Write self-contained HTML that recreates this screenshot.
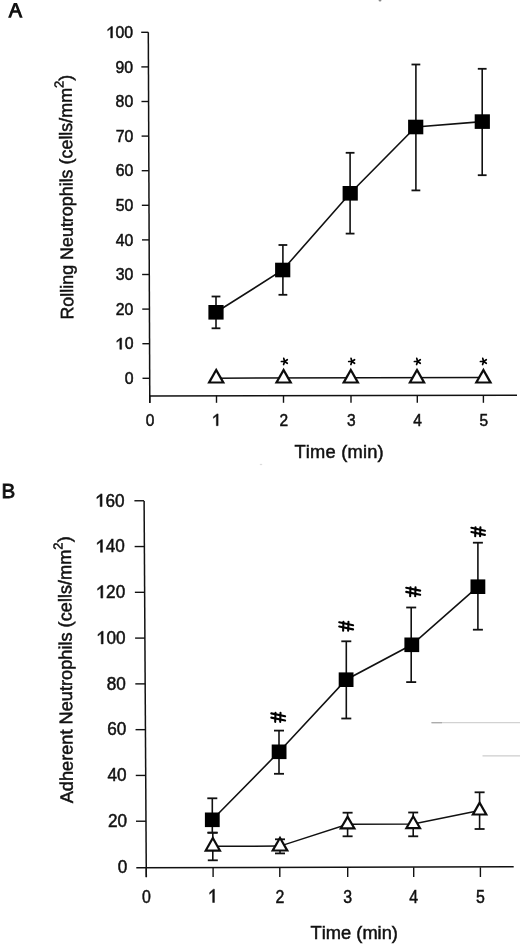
<!DOCTYPE html>
<html><head><meta charset="utf-8"><style>
html,body{margin:0;padding:0;background:#fff;}
body{width:520px;height:944px;overflow:hidden;}
svg{display:block;font-family:"Liberation Sans", sans-serif;will-change:transform;}
text{fill:#111;font-kerning:none;}
</style></head><body>
<svg width="520" height="944" viewBox="0 0 520 944">
<line x1="148.3" y1="32.3" x2="149.8" y2="403" stroke="#111" stroke-width="1.5"/>
<line x1="149" y1="395.9" x2="517" y2="395.3" stroke="#111" stroke-width="1.5"/>
<line x1="142.50" y1="378.30" x2="149.70" y2="378.30" stroke="#111" stroke-width="1.4"/>
<g transform="translate(124.72,383.90) scale(1.0,1)"><text x="0.00" y="0" font-size="15.8" stroke="#111" stroke-width="0.5">0</text></g>
<line x1="142.37" y1="343.70" x2="149.56" y2="343.70" stroke="#111" stroke-width="1.4"/>
<g transform="translate(115.89,349.30) scale(1.0,1)"><polygon points="3.95,0.00 5.72,0.00 5.72,-11.31 4.58,-11.31 0.95,-8.45 0.95,-7.03 3.95,-9.29" fill="#111" stroke="#111" stroke-width="0.5" stroke-linejoin="round"/><text x="8.78" y="0" font-size="15.8" stroke="#111" stroke-width="0.5">0</text></g>
<line x1="142.24" y1="309.10" x2="149.42" y2="309.10" stroke="#111" stroke-width="1.4"/>
<g transform="translate(115.85,314.70) scale(1.0,1)"><text x="0.00" y="0" font-size="15.8" stroke="#111" stroke-width="0.5">2</text><text x="8.78" y="0" font-size="15.8" stroke="#111" stroke-width="0.5">0</text></g>
<line x1="142.11" y1="274.50" x2="149.28" y2="274.50" stroke="#111" stroke-width="1.4"/>
<g transform="translate(115.81,280.10) scale(1.0,1)"><text x="0.00" y="0" font-size="15.8" stroke="#111" stroke-width="0.5">3</text><text x="8.78" y="0" font-size="15.8" stroke="#111" stroke-width="0.5">0</text></g>
<line x1="141.98" y1="239.90" x2="149.14" y2="239.90" stroke="#111" stroke-width="1.4"/>
<g transform="translate(115.77,245.50) scale(1.0,1)"><text x="0.00" y="0" font-size="15.8" stroke="#111" stroke-width="0.5">4</text><text x="8.78" y="0" font-size="15.8" stroke="#111" stroke-width="0.5">0</text></g>
<line x1="141.85" y1="205.30" x2="149.00" y2="205.30" stroke="#111" stroke-width="1.4"/>
<g transform="translate(115.73,210.90) scale(1.0,1)"><text x="0.00" y="0" font-size="15.8" stroke="#111" stroke-width="0.5">5</text><text x="8.78" y="0" font-size="15.8" stroke="#111" stroke-width="0.5">0</text></g>
<line x1="141.72" y1="170.70" x2="148.86" y2="170.70" stroke="#111" stroke-width="1.4"/>
<g transform="translate(115.69,176.30) scale(1.0,1)"><text x="0.00" y="0" font-size="15.8" stroke="#111" stroke-width="0.5">6</text><text x="8.78" y="0" font-size="15.8" stroke="#111" stroke-width="0.5">0</text></g>
<line x1="141.59" y1="136.10" x2="148.72" y2="136.10" stroke="#111" stroke-width="1.4"/>
<g transform="translate(115.65,141.70) scale(1.0,1)"><text x="0.00" y="0" font-size="15.8" stroke="#111" stroke-width="0.5">7</text><text x="8.78" y="0" font-size="15.8" stroke="#111" stroke-width="0.5">0</text></g>
<line x1="141.46" y1="101.50" x2="148.58" y2="101.50" stroke="#111" stroke-width="1.4"/>
<g transform="translate(115.61,107.10) scale(1.0,1)"><text x="0.00" y="0" font-size="15.8" stroke="#111" stroke-width="0.5">8</text><text x="8.78" y="0" font-size="15.8" stroke="#111" stroke-width="0.5">0</text></g>
<line x1="141.33" y1="66.90" x2="148.44" y2="66.90" stroke="#111" stroke-width="1.4"/>
<g transform="translate(115.57,72.50) scale(1.0,1)"><text x="0.00" y="0" font-size="15.8" stroke="#111" stroke-width="0.5">9</text><text x="8.78" y="0" font-size="15.8" stroke="#111" stroke-width="0.5">0</text></g>
<line x1="141.20" y1="32.30" x2="148.30" y2="32.30" stroke="#111" stroke-width="1.4"/>
<g transform="translate(106.75,37.90) scale(1.0,1)"><polygon points="3.95,0.00 5.72,0.00 5.72,-11.31 4.58,-11.31 0.95,-8.45 0.95,-7.03 3.95,-9.29" fill="#111" stroke="#111" stroke-width="0.5" stroke-linejoin="round"/><text x="8.78" y="0" font-size="15.8" stroke="#111" stroke-width="0.5">0</text><text x="17.57" y="0" font-size="15.8" stroke="#111" stroke-width="0.5">0</text></g>
<line x1="149.8" y1="395.5" x2="149.8" y2="402.8" stroke="#111" stroke-width="1.4"/>
<g transform="translate(145.79,425.70) scale(0.94,1)"><text x="0.00" y="0" font-size="16.5" stroke="#111" stroke-width="0.5">0</text></g>
<line x1="216.5" y1="395.5" x2="216.5" y2="402.8" stroke="#111" stroke-width="1.4"/>
<g transform="translate(212.49,425.70) scale(0.94,1)"><polygon points="4.12,0.00 5.97,0.00 5.97,-11.81 4.78,-11.81 0.99,-8.83 0.99,-7.34 4.12,-9.70" fill="#111" stroke="#111" stroke-width="0.5" stroke-linejoin="round"/></g>
<line x1="283.5" y1="395.5" x2="283.5" y2="402.8" stroke="#111" stroke-width="1.4"/>
<g transform="translate(279.49,425.70) scale(0.94,1)"><text x="0.00" y="0" font-size="16.5" stroke="#111" stroke-width="0.5">2</text></g>
<line x1="351.0" y1="395.5" x2="351.0" y2="402.8" stroke="#111" stroke-width="1.4"/>
<g transform="translate(346.99,425.70) scale(0.94,1)"><text x="0.00" y="0" font-size="16.5" stroke="#111" stroke-width="0.5">3</text></g>
<line x1="417.3" y1="395.5" x2="417.3" y2="402.8" stroke="#111" stroke-width="1.4"/>
<g transform="translate(413.29,425.70) scale(0.94,1)"><text x="0.00" y="0" font-size="16.5" stroke="#111" stroke-width="0.5">4</text></g>
<line x1="483.4" y1="395.5" x2="483.4" y2="402.8" stroke="#111" stroke-width="1.4"/>
<g transform="translate(479.39,425.70) scale(0.94,1)"><text x="0.00" y="0" font-size="16.5" stroke="#111" stroke-width="0.5">5</text></g>
<text x="294.4" y="457.8" font-size="18.3" letter-spacing="0.22" stroke="#111" stroke-width="0.5">Time (min)</text>
<text transform="translate(73.3,319.6) rotate(-90.38)" font-size="17.9" stroke="#111" stroke-width="0.5">Rolling Neutrophils (cells/mm<tspan font-size="13" dy="-8.3">2</tspan><tspan dy="8.3">)</tspan></text>
<polygon points="13.8,3.0 16.5,3.0 11.0,17.8 8.1,17.8" fill="#111"/><polygon points="14.3,3.0 17.0,3.0 22.7,17.8 19.8,17.8" fill="#111"/><polygon points="11.2,10.2 19.6,10.2 20.5,12.8 10.3,12.8" fill="#111"/>
<line x1="216.0" y1="296.5" x2="216.0" y2="328.3" stroke="#111" stroke-width="1.6"/>
<line x1="211.6" y1="296.5" x2="220.4" y2="296.5" stroke="#111" stroke-width="1.8"/>
<line x1="211.6" y1="328.3" x2="220.4" y2="328.3" stroke="#111" stroke-width="1.8"/>
<line x1="282.9" y1="245.0" x2="282.9" y2="294.8" stroke="#111" stroke-width="1.6"/>
<line x1="278.5" y1="245.0" x2="287.29999999999995" y2="245.0" stroke="#111" stroke-width="1.8"/>
<line x1="278.5" y1="294.8" x2="287.29999999999995" y2="294.8" stroke="#111" stroke-width="1.8"/>
<line x1="350.1" y1="152.8" x2="350.1" y2="233.6" stroke="#111" stroke-width="1.6"/>
<line x1="345.70000000000005" y1="152.8" x2="354.5" y2="152.8" stroke="#111" stroke-width="1.8"/>
<line x1="345.70000000000005" y1="233.6" x2="354.5" y2="233.6" stroke="#111" stroke-width="1.8"/>
<line x1="415.9" y1="64.5" x2="415.9" y2="190.4" stroke="#111" stroke-width="1.6"/>
<line x1="411.5" y1="64.5" x2="420.29999999999995" y2="64.5" stroke="#111" stroke-width="1.8"/>
<line x1="411.5" y1="190.4" x2="420.29999999999995" y2="190.4" stroke="#111" stroke-width="1.8"/>
<line x1="482.2" y1="68.8" x2="482.2" y2="175.2" stroke="#111" stroke-width="1.6"/>
<line x1="477.8" y1="68.8" x2="486.59999999999997" y2="68.8" stroke="#111" stroke-width="1.8"/>
<line x1="477.8" y1="175.2" x2="486.59999999999997" y2="175.2" stroke="#111" stroke-width="1.8"/>
<polyline points="216.0,312.3 282.7,270.0 350.2,193.3 415.7,127.0 482.3,121.6" fill="none" stroke="#111" stroke-width="1.6"/>
<rect x="208.4" y="305.0" width="15.2" height="14.6" fill="#000"/>
<rect x="275.09999999999997" y="262.7" width="15.2" height="14.6" fill="#000"/>
<rect x="342.59999999999997" y="186.0" width="15.2" height="14.6" fill="#000"/>
<rect x="408.09999999999997" y="119.7" width="15.2" height="14.6" fill="#000"/>
<rect x="474.7" y="114.3" width="15.2" height="14.6" fill="#000"/>
<line x1="216.2" y1="378.2" x2="483.4" y2="377.6" stroke="#111" stroke-width="1.5"/>
<polygon points="216.20,367.70 207.20,383.60 225.20,383.60" fill="#0c0c0c"/><polygon points="216.20,372.17 210.97,381.40 221.43,381.40" fill="#fff"/>
<polygon points="283.60,367.70 274.60,383.60 292.60,383.60" fill="#0c0c0c"/><polygon points="283.60,372.17 278.37,381.40 288.83,381.40" fill="#fff"/>
<polygon points="350.80,367.70 341.80,383.60 359.80,383.60" fill="#0c0c0c"/><polygon points="350.80,372.17 345.57,381.40 356.03,381.40" fill="#fff"/>
<polygon points="417.00,367.70 408.00,383.60 426.00,383.60" fill="#0c0c0c"/><polygon points="417.00,372.17 411.77,381.40 422.23,381.40" fill="#fff"/>
<polygon points="483.40,367.70 474.40,383.60 492.40,383.60" fill="#0c0c0c"/><polygon points="483.40,372.17 478.17,381.40 488.63,381.40" fill="#fff"/>
<line x1="284.60" y1="361.50" x2="281.40" y2="361.50" stroke="#000" stroke-width="1.7" stroke-linecap="round"/><line x1="284.60" y1="361.50" x2="283.77" y2="358.41" stroke="#000" stroke-width="1.7" stroke-linecap="round"/><line x1="284.60" y1="361.50" x2="287.28" y2="359.76" stroke="#000" stroke-width="1.7" stroke-linecap="round"/><line x1="284.60" y1="361.50" x2="287.28" y2="363.24" stroke="#000" stroke-width="1.7" stroke-linecap="round"/><line x1="284.60" y1="361.50" x2="283.61" y2="364.54" stroke="#000" stroke-width="1.7" stroke-linecap="round"/>
<line x1="351.90" y1="361.50" x2="348.70" y2="361.50" stroke="#000" stroke-width="1.7" stroke-linecap="round"/><line x1="351.90" y1="361.50" x2="351.07" y2="358.41" stroke="#000" stroke-width="1.7" stroke-linecap="round"/><line x1="351.90" y1="361.50" x2="354.58" y2="359.76" stroke="#000" stroke-width="1.7" stroke-linecap="round"/><line x1="351.90" y1="361.50" x2="354.58" y2="363.24" stroke="#000" stroke-width="1.7" stroke-linecap="round"/><line x1="351.90" y1="361.50" x2="350.91" y2="364.54" stroke="#000" stroke-width="1.7" stroke-linecap="round"/>
<line x1="417.60" y1="361.50" x2="414.40" y2="361.50" stroke="#000" stroke-width="1.7" stroke-linecap="round"/><line x1="417.60" y1="361.50" x2="416.77" y2="358.41" stroke="#000" stroke-width="1.7" stroke-linecap="round"/><line x1="417.60" y1="361.50" x2="420.28" y2="359.76" stroke="#000" stroke-width="1.7" stroke-linecap="round"/><line x1="417.60" y1="361.50" x2="420.28" y2="363.24" stroke="#000" stroke-width="1.7" stroke-linecap="round"/><line x1="417.60" y1="361.50" x2="416.61" y2="364.54" stroke="#000" stroke-width="1.7" stroke-linecap="round"/>
<line x1="483.60" y1="361.50" x2="480.40" y2="361.50" stroke="#000" stroke-width="1.7" stroke-linecap="round"/><line x1="483.60" y1="361.50" x2="482.77" y2="358.41" stroke="#000" stroke-width="1.7" stroke-linecap="round"/><line x1="483.60" y1="361.50" x2="486.28" y2="359.76" stroke="#000" stroke-width="1.7" stroke-linecap="round"/><line x1="483.60" y1="361.50" x2="486.28" y2="363.24" stroke="#000" stroke-width="1.7" stroke-linecap="round"/><line x1="483.60" y1="361.50" x2="482.61" y2="364.54" stroke="#000" stroke-width="1.7" stroke-linecap="round"/>
<line x1="144.1" y1="501" x2="146.3" y2="877.3" stroke="#111" stroke-width="1.5"/>
<line x1="136.3" y1="867.7" x2="513.7" y2="866.8" stroke="#111" stroke-width="1.5"/>
<g transform="translate(117.81,872.80) scale(0.97,1)"><text x="0.00" y="0" font-size="17.7" stroke="#111" stroke-width="0.5">0</text></g>
<line x1="136.00" y1="821.22" x2="145.97" y2="821.22" stroke="#111" stroke-width="1.4"/>
<g transform="translate(107.91,827.02) scale(0.97,1)"><text x="0.00" y="0" font-size="17.7" stroke="#111" stroke-width="0.5">2</text><text x="9.84" y="0" font-size="17.7" stroke="#111" stroke-width="0.5">0</text></g>
<line x1="135.77" y1="775.44" x2="145.71" y2="775.44" stroke="#111" stroke-width="1.4"/>
<g transform="translate(107.55,781.24) scale(0.97,1)"><text x="0.00" y="0" font-size="17.7" stroke="#111" stroke-width="0.5">4</text><text x="9.84" y="0" font-size="17.7" stroke="#111" stroke-width="0.5">0</text></g>
<line x1="135.54" y1="729.66" x2="145.44" y2="729.66" stroke="#111" stroke-width="1.4"/>
<g transform="translate(107.19,735.46) scale(0.97,1)"><text x="0.00" y="0" font-size="17.7" stroke="#111" stroke-width="0.5">6</text><text x="9.84" y="0" font-size="17.7" stroke="#111" stroke-width="0.5">0</text></g>
<line x1="135.31" y1="683.88" x2="145.17" y2="683.88" stroke="#111" stroke-width="1.4"/>
<g transform="translate(106.83,689.68) scale(0.97,1)"><text x="0.00" y="0" font-size="17.7" stroke="#111" stroke-width="0.5">8</text><text x="9.84" y="0" font-size="17.7" stroke="#111" stroke-width="0.5">0</text></g>
<line x1="135.09" y1="638.10" x2="144.90" y2="638.10" stroke="#111" stroke-width="1.4"/>
<g transform="translate(96.93,643.90) scale(0.97,1)"><polygon points="4.42,0.00 6.41,0.00 6.41,-12.67 5.13,-12.67 1.06,-9.47 1.06,-7.88 4.42,-10.41" fill="#111" stroke="#111" stroke-width="0.5" stroke-linejoin="round"/><text x="9.84" y="0" font-size="17.7" stroke="#111" stroke-width="0.5">0</text><text x="19.68" y="0" font-size="17.7" stroke="#111" stroke-width="0.5">0</text></g>
<line x1="134.86" y1="592.32" x2="144.63" y2="592.32" stroke="#111" stroke-width="1.4"/>
<g transform="translate(96.57,598.12) scale(0.97,1)"><polygon points="4.42,0.00 6.41,0.00 6.41,-12.67 5.13,-12.67 1.06,-9.47 1.06,-7.88 4.42,-10.41" fill="#111" stroke="#111" stroke-width="0.5" stroke-linejoin="round"/><text x="9.84" y="0" font-size="17.7" stroke="#111" stroke-width="0.5">2</text><text x="19.68" y="0" font-size="17.7" stroke="#111" stroke-width="0.5">0</text></g>
<line x1="134.63" y1="546.54" x2="144.37" y2="546.54" stroke="#111" stroke-width="1.4"/>
<g transform="translate(96.22,552.34) scale(0.97,1)"><polygon points="4.42,0.00 6.41,0.00 6.41,-12.67 5.13,-12.67 1.06,-9.47 1.06,-7.88 4.42,-10.41" fill="#111" stroke="#111" stroke-width="0.5" stroke-linejoin="round"/><text x="9.84" y="0" font-size="17.7" stroke="#111" stroke-width="0.5">4</text><text x="19.68" y="0" font-size="17.7" stroke="#111" stroke-width="0.5">0</text></g>
<line x1="134.40" y1="500.76" x2="144.10" y2="500.76" stroke="#111" stroke-width="1.4"/>
<g transform="translate(95.86,506.56) scale(0.97,1)"><polygon points="4.42,0.00 6.41,0.00 6.41,-12.67 5.13,-12.67 1.06,-9.47 1.06,-7.88 4.42,-10.41" fill="#111" stroke="#111" stroke-width="0.5" stroke-linejoin="round"/><text x="9.84" y="0" font-size="17.7" stroke="#111" stroke-width="0.5">6</text><text x="19.68" y="0" font-size="17.7" stroke="#111" stroke-width="0.5">0</text></g>
<line x1="146.3" y1="867.3" x2="146.3" y2="877" stroke="#111" stroke-width="1.4"/>
<g transform="translate(141.88,902.50) scale(0.86,1)"><text x="0.00" y="0" font-size="18.5" stroke="#111" stroke-width="0.5">0</text></g>
<line x1="213.1" y1="867.3" x2="213.1" y2="877" stroke="#111" stroke-width="1.4"/>
<g transform="translate(208.68,902.50) scale(0.86,1)"><polygon points="4.62,0.00 6.70,0.00 6.70,-13.25 5.36,-13.25 1.11,-9.90 1.11,-8.23 4.62,-10.88" fill="#111" stroke="#111" stroke-width="0.5" stroke-linejoin="round"/></g>
<line x1="279.8" y1="867.3" x2="279.8" y2="877" stroke="#111" stroke-width="1.4"/>
<g transform="translate(275.38,902.50) scale(0.86,1)"><text x="0.00" y="0" font-size="18.5" stroke="#111" stroke-width="0.5">2</text></g>
<line x1="347.7" y1="867.3" x2="347.7" y2="877" stroke="#111" stroke-width="1.4"/>
<g transform="translate(343.28,902.50) scale(0.86,1)"><text x="0.00" y="0" font-size="18.5" stroke="#111" stroke-width="0.5">3</text></g>
<line x1="413.7" y1="867.3" x2="413.7" y2="877" stroke="#111" stroke-width="1.4"/>
<g transform="translate(409.28,902.50) scale(0.86,1)"><text x="0.00" y="0" font-size="18.5" stroke="#111" stroke-width="0.5">4</text></g>
<line x1="480.4" y1="867.3" x2="480.4" y2="877" stroke="#111" stroke-width="1.4"/>
<g transform="translate(475.98,902.50) scale(0.86,1)"><text x="0.00" y="0" font-size="18.5" stroke="#111" stroke-width="0.5">5</text></g>
<text x="310.6" y="938.6" font-size="18.3" stroke="#111" stroke-width="0.5">Time (min)</text>
<text transform="translate(72.9,803.3) rotate(-90.45)" font-size="18.2" stroke="#111" stroke-width="0.5">Adherent Neutrophils (cells/mm<tspan font-size="13" dy="-8.3">2</tspan><tspan dy="8.3">)</tspan></text>
<text x="1.5" y="498.0" font-size="20.6" stroke="#111" stroke-width="0.85">B</text>
<line x1="212.3" y1="798.3" x2="212.3" y2="832.7" stroke="#111" stroke-width="1.6"/>
<line x1="207.3" y1="798.3" x2="217.3" y2="798.3" stroke="#111" stroke-width="1.8"/>
<line x1="207.3" y1="832.7" x2="217.3" y2="832.7" stroke="#111" stroke-width="1.8"/>
<line x1="279.0" y1="730.6" x2="279.0" y2="773.8" stroke="#111" stroke-width="1.6"/>
<line x1="274.0" y1="730.6" x2="284.0" y2="730.6" stroke="#111" stroke-width="1.8"/>
<line x1="274.0" y1="773.8" x2="284.0" y2="773.8" stroke="#111" stroke-width="1.8"/>
<line x1="346.3" y1="641.3" x2="346.3" y2="718.5" stroke="#111" stroke-width="1.6"/>
<line x1="341.3" y1="641.3" x2="351.3" y2="641.3" stroke="#111" stroke-width="1.8"/>
<line x1="341.3" y1="718.5" x2="351.3" y2="718.5" stroke="#111" stroke-width="1.8"/>
<line x1="411.2" y1="607.5" x2="411.2" y2="682.1" stroke="#111" stroke-width="1.6"/>
<line x1="406.2" y1="607.5" x2="416.2" y2="607.5" stroke="#111" stroke-width="1.8"/>
<line x1="406.2" y1="682.1" x2="416.2" y2="682.1" stroke="#111" stroke-width="1.8"/>
<line x1="477.9" y1="542.7" x2="477.9" y2="629.7" stroke="#111" stroke-width="1.6"/>
<line x1="472.9" y1="542.7" x2="482.9" y2="542.7" stroke="#111" stroke-width="1.8"/>
<line x1="472.9" y1="629.7" x2="482.9" y2="629.7" stroke="#111" stroke-width="1.8"/>
<line x1="212.8" y1="832.7" x2="212.8" y2="860.3" stroke="#111" stroke-width="1.6"/>
<line x1="207.8" y1="832.7" x2="217.8" y2="832.7" stroke="#111" stroke-width="1.8"/>
<line x1="207.8" y1="860.3" x2="217.8" y2="860.3" stroke="#111" stroke-width="1.8"/>
<line x1="280.0" y1="839.3" x2="280.0" y2="853.4" stroke="#111" stroke-width="1.6"/>
<line x1="275.0" y1="839.3" x2="285.0" y2="839.3" stroke="#111" stroke-width="1.8"/>
<line x1="275.0" y1="853.4" x2="285.0" y2="853.4" stroke="#111" stroke-width="1.8"/>
<line x1="347.6" y1="812.7" x2="347.6" y2="836.3" stroke="#111" stroke-width="1.6"/>
<line x1="342.6" y1="812.7" x2="352.6" y2="812.7" stroke="#111" stroke-width="1.8"/>
<line x1="342.6" y1="836.3" x2="352.6" y2="836.3" stroke="#111" stroke-width="1.8"/>
<line x1="413.2" y1="812.5" x2="413.2" y2="836.3" stroke="#111" stroke-width="1.6"/>
<line x1="408.2" y1="812.5" x2="418.2" y2="812.5" stroke="#111" stroke-width="1.8"/>
<line x1="408.2" y1="836.3" x2="418.2" y2="836.3" stroke="#111" stroke-width="1.8"/>
<line x1="479.6" y1="792.3" x2="479.6" y2="829.0" stroke="#111" stroke-width="1.6"/>
<line x1="474.6" y1="792.3" x2="484.6" y2="792.3" stroke="#111" stroke-width="1.8"/>
<line x1="474.6" y1="829.0" x2="484.6" y2="829.0" stroke="#111" stroke-width="1.8"/>
<polyline points="212.3,819.8 279.1,751.8 346.1,679.7 411.8,644.8 477.9,586.7" fill="none" stroke="#111" stroke-width="1.6"/>
<polyline points="212.80,846.23 280.00,846.10 347.60,824.30 413.20,824.07 479.60,810.40" fill="none" stroke="#111" stroke-width="1.5"/>
<rect x="204.9" y="812.5" width="14.8" height="14.6" fill="#000"/>
<rect x="271.70000000000005" y="744.5" width="14.8" height="14.6" fill="#000"/>
<rect x="338.70000000000005" y="672.4000000000001" width="14.8" height="14.6" fill="#000"/>
<rect x="404.40000000000003" y="637.5" width="14.8" height="14.6" fill="#000"/>
<rect x="470.5" y="579.4000000000001" width="14.8" height="14.6" fill="#000"/>
<polygon points="212.80,835.70 203.80,851.80 221.80,851.80" fill="#0c0c0c"/><polygon points="212.80,840.21 207.55,849.60 218.05,849.60" fill="#fff"/>
<polygon points="280.00,835.70 270.80,851.60 289.20,851.60" fill="#0c0c0c"/><polygon points="280.00,840.09 274.61,849.40 285.39,849.40" fill="#fff"/>
<polygon points="347.60,814.50 338.90,829.50 356.30,829.50" fill="#0c0c0c"/><polygon points="347.60,818.88 342.72,827.30 352.48,827.30" fill="#fff"/>
<polygon points="413.20,814.20 404.50,829.30 421.90,829.30" fill="#0c0c0c"/><polygon points="413.20,818.61 408.31,827.10 418.09,827.10" fill="#fff"/>
<polygon points="479.60,800.60 471.00,815.60 488.20,815.60" fill="#0c0c0c"/><polygon points="479.60,805.02 474.80,813.40 484.40,813.40" fill="#fff"/>
<line x1="271.30" y1="713.40" x2="285.10" y2="716.30" stroke="#000" stroke-width="2.1" stroke-linecap="round"/><line x1="271.30" y1="717.60" x2="285.10" y2="720.50" stroke="#000" stroke-width="2.1" stroke-linecap="round"/><line x1="275.50" y1="712.90" x2="275.20" y2="721.90" stroke="#000" stroke-width="2.1" stroke-linecap="round"/><line x1="280.50" y1="712.90" x2="280.20" y2="721.90" stroke="#000" stroke-width="2.1" stroke-linecap="round"/>
<line x1="339.21" y1="622.30" x2="353.09" y2="625.20" stroke="#000" stroke-width="2.1" stroke-linecap="round"/><line x1="339.21" y1="626.50" x2="353.09" y2="629.40" stroke="#000" stroke-width="2.1" stroke-linecap="round"/><line x1="343.43" y1="621.80" x2="343.13" y2="630.80" stroke="#000" stroke-width="2.1" stroke-linecap="round"/><line x1="348.46" y1="621.80" x2="348.16" y2="630.80" stroke="#000" stroke-width="2.1" stroke-linecap="round"/>
<line x1="406.21" y1="587.70" x2="420.19" y2="590.60" stroke="#000" stroke-width="2.1" stroke-linecap="round"/><line x1="406.21" y1="591.90" x2="420.19" y2="594.80" stroke="#000" stroke-width="2.1" stroke-linecap="round"/><line x1="410.47" y1="587.20" x2="410.16" y2="596.20" stroke="#000" stroke-width="2.1" stroke-linecap="round"/><line x1="415.53" y1="587.20" x2="415.23" y2="596.20" stroke="#000" stroke-width="2.1" stroke-linecap="round"/>
<line x1="471.38" y1="527.80" x2="484.92" y2="530.70" stroke="#000" stroke-width="2.1" stroke-linecap="round"/><line x1="471.38" y1="532.00" x2="484.92" y2="534.90" stroke="#000" stroke-width="2.1" stroke-linecap="round"/><line x1="475.50" y1="527.30" x2="475.21" y2="536.30" stroke="#000" stroke-width="2.1" stroke-linecap="round"/><line x1="480.41" y1="527.30" x2="480.11" y2="536.30" stroke="#000" stroke-width="2.1" stroke-linecap="round"/>
<ellipse cx="261" cy="464.5" rx="1.3" ry="0.7" fill="#ddd"/>
<ellipse cx="380" cy="0.4" rx="1.4" ry="1.1" fill="#888"/>
<line x1="431.5" y1="722.7" x2="520" y2="722.7" stroke="#d2d2d2" stroke-width="1.2"/>
<line x1="431.5" y1="722.7" x2="442" y2="722.7" stroke="#a8a8a8" stroke-width="1.2"/>
<line x1="482.5" y1="755.8" x2="520" y2="755.8" stroke="#cdcdcd" stroke-width="1.2"/>
</svg>
</body></html>
